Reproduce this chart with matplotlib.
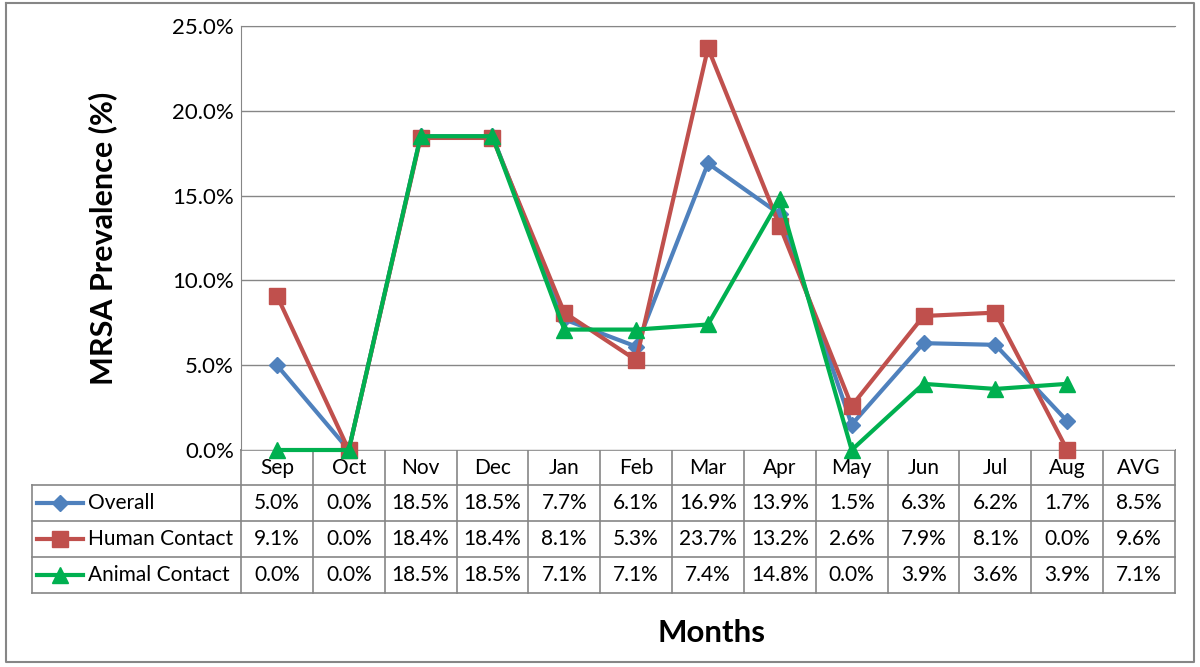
import numpy as np
import matplotlib.pyplot as plt

months = ['Sep', 'Oct', 'Nov', 'Dec', 'Jan', 'Feb', 'Mar', 'Apr', 'May', 'Jun', 'Jul', 'Aug', 'AVG']
series_names = ['Overall', 'Human Contact', 'Animal Contact']
overall = [5.0, 0.0, 18.5, 18.5, 7.7, 6.1, 16.9, 13.9, 1.5, 6.3, 6.2, 1.7, 8.5]
human = [9.1, 0.0, 18.4, 18.4, 8.1, 5.3, 23.7, 13.2, 2.6, 7.9, 8.1, 0.0, 9.6]
animal = [0.0, 0.0, 18.5, 18.5, 7.1, 7.1, 7.4, 14.8, 0.0, 3.9, 3.6, 3.9, 7.1]

colors = ['#4F81BD', '#C0504D', '#00B050']
markers = ['D', 's', '^']
msizes = [8, 11, 11]

plt.rcParams['font.family'] = ['Lato', 'DejaVu Sans']
W, H = 1200, 667
fig = plt.figure(figsize=(12, 6.67), dpi=100)

# overlay in pixel coords for table and border
ov = fig.add_axes([0, 0, 1, 1])
ov.set_xlim(0, W)
ov.set_ylim(H, 0)
ov.axis('off')

x0, x1, y0, y1 = 241, 1175, 26, 450
ax = fig.add_axes([x0 / W, 1 - y1 / H, (x1 - x0) / W, (y1 - y0) / H])

gray = '#868686'
fs = 15
n = len(months)
xs = np.arange(n - 1)  # AVG has no point on the line
for vals, c, m, ms, name in zip([overall, human, animal], colors, markers, msizes, series_names):
    ax.plot(xs, np.array(vals[:-1]) / 100, color=c, lw=3, marker=m, ms=ms,
            label=name, zorder=3, clip_on=False)

ax.set_xlim(-0.5, n - 0.5)
ax.set_ylim(0, 0.25)
ax.set_yticks(np.arange(0, 0.26, 0.05))
ax.set_yticklabels(['%.1f%%' % (v * 100) for v in np.arange(0, 0.26, 0.05)], fontsize=16)
ax.set_xticks([])
ax.grid(axis='y', color=gray, lw=1)
ax.set_axisbelow(True)
for s in ['right', 'bottom']:
    ax.spines[s].set_visible(False)
ax.spines['top'].set_color(gray)
ax.spines['left'].set_color(gray)
ax.tick_params(axis='y', length=0, pad=5)
ax.set_ylabel('MRSA Prevalence (%)', fontsize=22, fontweight='bold', labelpad=40)

# table
colw = (x1 - x0) / n
rows = [450, 485, 521, 557, 593]
lkw = dict(color=gray, lw=1.2)
for r in rows[1:]:
    ov.plot([32, x1], [r, r], **lkw)
ov.plot([x0, x1], [rows[0], rows[0]], **lkw)
ov.plot([32, 32], [rows[1], rows[-1]], **lkw)
for i in range(n + 1):
    xx = x0 + i * colw
    ov.plot([xx, xx], [rows[0], rows[-1]], **lkw)

for i, mname in enumerate(months):
    ov.text(x0 + (i + 0.5) * colw, (rows[0] + rows[1]) / 2 + 1, mname, ha='center', va='center', fontsize=fs)

for j, (vals, c, m, ms, name) in enumerate(zip([overall, human, animal], colors, markers, msizes, series_names)):
    yc = (rows[j + 1] + rows[j + 2]) / 2
    ov.plot([37, 83], [yc, yc], color=c, lw=3, marker=None)
    ov.plot([60], [yc], color=c, marker=m, ms=ms, ls='none')
    ov.text(88, yc, name, ha='left', va='center', fontsize=fs)
    for i, v in enumerate(vals):
        ov.text(x0 + (i + 0.5) * colw, yc, '%.1f%%' % v, ha='center', va='center', fontsize=fs)

ov.text(712, 633, 'Months', ha='center', va='center', fontsize=22.5, fontweight='bold')

# outer border
ov.plot([6, 1194, 1194, 6, 6], [3, 3, 662, 662, 3], color=gray, lw=1.5)

fig.savefig('out.png', dpi=100)
